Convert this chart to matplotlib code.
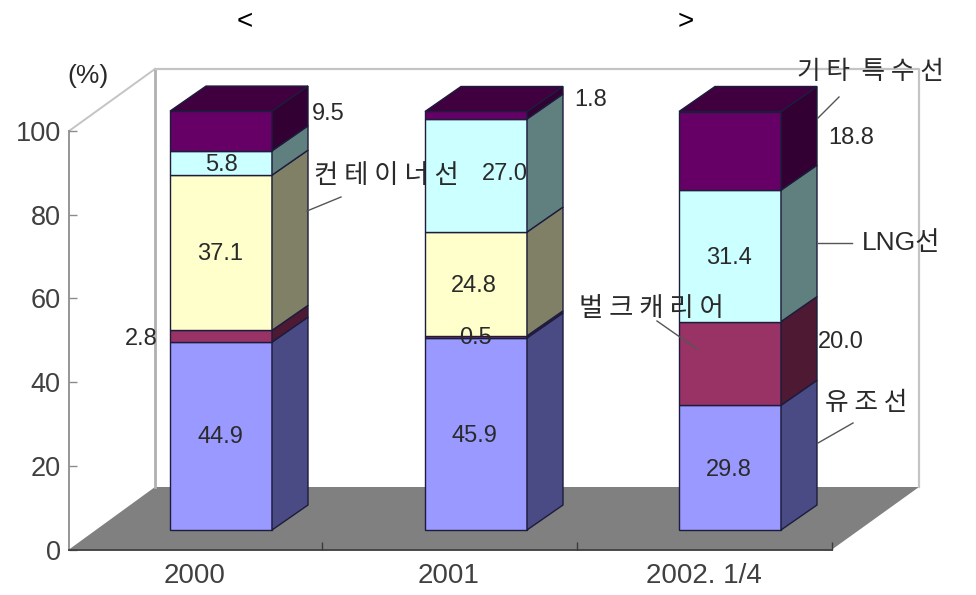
import matplotlib
matplotlib.use("Agg")
import matplotlib.pyplot as plt
from matplotlib.patches import Polygon

years = ['2000', '2001', '2002. 1/4']
tanker = [44.9, 45.9, 29.8]
bulk = [2.8, 0.5, 20.0]
container = [37.1, 24.8, 0.0]
lng = [5.8, 27.0, 31.4]
other = [9.5, 1.8, 18.8]
yticks = [0, 20, 40, 60, 80, 100]

series = [tanker, bulk, container, lng, other]
front_colors = ['#9999ff', '#993366', '#ffffcc', '#ccffff', '#660066']
side_colors = ['#4a4a85', '#4d1933', '#808066', '#608080', '#330033']
top_color = '#400040'
edge = '#1c1c3c'
grey = '#b0b0b0'
txt = '#2a2a2a'

# layout, in pixels of the picture
W, H = 976, 595
x0, x1 = 69, 832
y0, y100 = 549.5, 131
scale = (y0 - y100) / 100
bar_x = [170, 425, 679]
bar_w = 102
bar_dx, bar_dy = 36, 25
bar_lift = 19.5

font = ['Liberation Sans', 'Noto Sans CJK KR']
kfont = ['Noto Sans CJK KR', 'Liberation Sans']


def val(py):
    return (y0 - py) / scale


def label(px, py, s, size=17, family=font, color=txt, **kw):
    fig.text(px / W, 1 - py / H, s, fontsize=size, family=family, color=color,
             ha='center', va='center', **kw)


def leader(points):
    ax.plot([p[0] for p in points], [val(p[1]) for p in points], color='#555555',
            lw=1, clip_on=False, zorder=9)


fig = plt.figure(figsize=(W / 100, H / 100), dpi=100)
ax = fig.add_axes([x0 / W, 1 - y0 / H, (x1 - x0) / W, (y0 - y100) / H])
ax.set_xlim(x0, x1)
ax.set_ylim(0, 100)
ax.patch.set_visible(False)

# walls and floor
ax.add_patch(Polygon([(69, val(549.5)), (155, val(487)), (919, val(487)), (832, val(549.5))],
                     facecolor='#808080', edgecolor='none', clip_on=False, zorder=1))
ax.plot([69, 155], [val(131), val(69)], color='#c4c4c4', lw=1.4, clip_on=False, zorder=1)
ax.plot([155, 155], [val(69), val(487)], color=grey, lw=2, clip_on=False, zorder=1)
ax.plot([155, 919, 919], [val(69), val(69), val(487)], color='#c4c4c4', lw=1.6, clip_on=False, zorder=1)

# stacked bars
lift = bar_lift / scale
for i, x in enumerate(bar_x):
    bottom = lift
    for s, vals in enumerate(series):
        v = vals[i]
        if v == 0:
            continue
        ax.bar(x, v, width=bar_w, bottom=bottom, align='edge', color=front_colors[s],
               edgecolor=edge, linewidth=1, clip_on=False, zorder=3)
        dy = bar_dy / scale
        ax.add_patch(Polygon([(x + bar_w, bottom), (x + bar_w + bar_dx, bottom + dy),
                              (x + bar_w + bar_dx, bottom + v + dy), (x + bar_w, bottom + v)],
                             facecolor=side_colors[s], edgecolor=edge, linewidth=1,
                             clip_on=False, zorder=3))
        bottom += v
    ax.add_patch(Polygon([(x, bottom), (x + bar_dx, bottom + dy),
                          (x + bar_w + bar_dx, bottom + dy), (x + bar_w, bottom)],
                         facecolor=top_color, edgecolor=edge, linewidth=1,
                         clip_on=False, zorder=3))

# axes
for side in ['top', 'right']:
    ax.spines[side].set_visible(False)
ax.spines['left'].set_color('#8c8c8c')
ax.spines['left'].set_linewidth(1.3)
ax.spines['bottom'].set_color('#3a3a3a')
ax.spines['bottom'].set_linewidth(1.3)
ax.spines['left'].set_zorder(2)
ax.spines['bottom'].set_zorder(2)
ax.set_yticks(yticks)
ax.set_yticklabels([str(t) for t in yticks], fontsize=19.5, family=font, color='#404040')
ax.tick_params(axis='y', direction='in', length=6, width=1, color='#8c8c8c', pad=6)
ax.set_xticks([195, 449, 704])
ax.set_xticklabels(years, fontsize=20, family=font, color='#404040')
ax.tick_params(axis='x', which='major', length=0, pad=10)
ax.set_xticks([322, 577, 832], minor=True)
ax.tick_params(axis='x', which='minor', direction='in', length=6, width=1, color='#3a3a3a')

# value labels
label(328, 114, f'{other[0]}')
label(221, 165, f'{lng[0]}')
label(220, 254, f'{container[0]}')
label(141, 339, f'{bulk[0]}')
label(220, 437, f'{tanker[0]}')
label(591, 100, f'{other[1]}')
label(505, 174, f'{lng[1]:.1f}')
label(474, 286, f'{container[1]}')
label(476, 338, f'{bulk[1]}')
label(474, 436, f'{tanker[1]}')
label(851, 138, f'{other[2]}')
label(729, 258, f'{lng[2]}')
label(841, 342, f'{bulk[2]:.1f}')
label(729, 470, f'{tanker[2]}')

# series names with leaders
label(386, 175, '컨 테 이 너 선', size=19, family=kfont)
label(870, 72, '기 타  특 수 선', size=18.5, family=kfont)
label(901, 243, 'LNG선', size=19, family=font)
label(651, 308, '벌 크 캐 리 어', size=19, family=kfont)
label(866, 403, '유 조 선', size=18.5, family=kfont)
leader([(307, 211), (341, 197)])
leader([(818, 118), (839, 97)])
leader([(818, 243), (852, 243)])
leader([(657, 321), (697, 349)])
leader([(818, 443), (853, 423)])

label(88, 76, '(%)', size=19)
label(245, 22, '<', size=20, color='black')
label(686, 22, '>', size=20, color='black')

fig.savefig('out.png', dpi=100)
